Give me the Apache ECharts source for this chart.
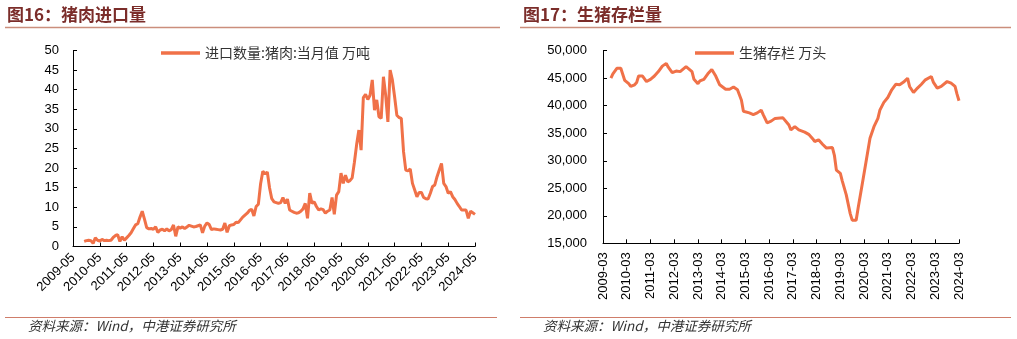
<!DOCTYPE html>
<html>
<head>
<meta charset="utf-8">
<script src="https://cdn.jsdelivr.net/npm/echarts@6/dist/echarts.min.js"></script>
<style>
html,body{margin:0;padding:0;background:#fff;}
#c{width:1017px;height:339px;}
</style>
</head>
<body>
<div id="c"></div>
<script>
// ---------- data ----------
const importStart = [2009, 5];   // first category: 2009-05
const importEnd = [2024, 5];
// 进口数量:猪肉:当月值 (万吨), monthly from 2009-05
const importValues = [null,null,null,null,null, 1.3,1.5,1.6,1.5,0.8, 2.2,1.6,1.4,1.8,1.5,
  1.6,1.5,1.6,2.3,2.8, 3.0,1.3,2.5,1.6,2.2, 2.8,3.5,4.5,5.5,5.8, 7.5,9.0,7.0,4.8,4.5,
  4.6,4.4,5.0,3.6,4.2, 4.4,4.0,4.5,4.0,4.3, 5.5,2.6,5.0,4.7,5.0, 4.6,5.0,5.4,5.2,5.0,
  5.1,5.3,5.5,3.5,5.2, 6.0,5.6,4.3,4.5,4.4, 4.3,4.2,4.4,6.0,3.6, 5.3,5.5,5.6,6.2,6.1,
  6.8,7.5,8.0,8.5,9.2, 9.5,7.8,10.2,10.8,16.0, 19.2,18.5,19.0,15.0,12.2, 11.4,11.2,11.0,11.2,12.5,
  11.0,12.1,9.3,9.0,8.7, 8.5,8.6,9.0,9.6,11.0, 7.2,13.6,11.0,11.4,10.2, 9.3,9.6,9.4,8.5,9.0,
  9.3,12.5,8.2,13.1,14.0, 18.7,16.1,18.2,16.5,16.8, 17.5,21.5,26.0,29.7,24.6, 38.0,38.8,37.5,38.6,42.5,
  34.8,37.4,33.1,32.7,43.3, 38.6,31.8,45.0,42.5,38.2, 33.5,32.9,32.7,24.2,19.5, 19.3,19.8,16.1,14.4,12.7,
  13.8,13.8,12.5,12.2,12.1, 13.6,15.3,15.7,17.8,19.5, 21.2,16.1,15.3,13.6,14.0, 12.7,12.0,11.0,10.2,9.3,
  9.3,9.3,7.2,9.0,8.6, 8.2];

const stockStart = [2009, 3];
const stockEnd = [2024, 3];
// 生猪存栏 (万头)
const stockDates = ['2009-07','2009-08','2009-10','2009-12','2010-01','2010-02','2010-04','2010-05','2010-06','2010-07','2010-08','2010-09',
  '2010-11','2010-12','2011-01','2011-03','2011-05','2011-07','2011-09','2011-11','2011-12','2012-02','2012-04','2012-06','2012-07',
  '2012-09','2012-10','2012-12','2013-01','2013-03','2013-04','2013-06','2013-08','2013-10','2013-11','2013-12','2014-02','2014-03',
  '2014-05','2014-07','2014-09','2014-10','2014-11','2015-01','2015-02','2015-05','2015-07','2015-09','2015-11','2015-12','2016-02',
  '2016-04','2016-06','2016-10','2016-11','2017-01','2017-02','2017-04','2017-06','2017-09','2017-11','2018-01','2018-02','2018-04',
  '2018-06','2018-08','2018-09','2018-11','2018-12','2019-01','2019-03','2019-04','2019-06','2019-08','2019-09','2019-11','2019-12',
  '2020-02','2020-04','2020-06','2020-08','2020-10','2020-11','2021-01','2021-03','2021-05','2021-07','2021-09','2021-11','2022-01',
  '2022-02','2022-04','2022-06','2022-08','2022-10','2023-01','2023-02','2023-04','2023-06','2023-09','2023-11','2024-01','2024-02','2024-03'];
const stockValues = [45000,45800,46800,46800,46600,44600,44000,43500,43300,43800,44200,45400,
  45400,45200,44400,44800,45400,46200,47200,47700,47000,46000,46300,46200,46300,
  47100,47200,46200,44800,44000,44500,44800,45800,46600,46700,45400,43800,43600,
  43000,43000,43400,43600,42900,41000,39000,38700,38400,38700,39200,38400,36900,
  37200,37700,37800,37600,36500,35600,36200,35600,35200,34800,34000,33500,33800,
  33000,32300,32100,32400,31000,28300,27700,26300,23800,20400,19200,19200,21400,
  25600,29800,34100,36200,37700,39200,40600,41500,42900,43900,43800,44300,45000,
  43500,42400,43200,43900,44700,45300,44300,43200,43500,44400,44100,43500,42100,40900];

const importTicks = [0,5,10,15,20,25,30,35,40,45,50];
const stockTicks = [15000,20000,25000,30000,35000,40000,45000,50000];

function months(start, end){
  const out=[]; let y=start[0], m=start[1];
  while(y<end[0] || (y===end[0] && m<=end[1])){
    out.push(y+'-'+(m<10?'0'+m:m)); m++; if(m>12){m=1;y++;}
  }
  return out;
}
const importMonths = months(importStart, importEnd);
const stockMonths = months(stockStart, stockEnd);

// ---------- chart ----------
const LINE = '#F07148';
const NUM_FONT = 'Liberation Sans, Arial, sans-serif';
const CJK_FONT = '"Noto Sans CJK SC", sans-serif';
const everyYear = (i) => i % 12 === 0;

const chart = echarts.init(document.getElementById('c'), null, {renderer:'canvas'});

function xAxisCfg(grid, data, rotate, margin){
  return {
    type:'category', gridIndex:grid, data:data, boundaryGap:false,
    axisLine:{show:true, lineStyle:{color:'#000', width:1}},
    axisTick:{show:true, inside:true, length:4, interval:everyYear, lineStyle:{color:'#000'}},
    axisLabel:{interval:everyYear, rotate:rotate, margin:margin, color:'#000', fontSize:13, fontFamily:NUM_FONT},
    splitLine:{show:false}
  };
}
function yAxisCfg(grid, ticks, margin, fmt){
  return {
    type:'value', gridIndex:grid, min:ticks[0], max:ticks[ticks.length-1], interval:ticks[1]-ticks[0],
    axisLine:{show:true, lineStyle:{color:'#000', width:1}},
    axisTick:{show:true, inside:true, length:4, lineStyle:{color:'#000'}},
    axisLabel:{margin:margin, color:'#000', fontSize:13, fontFamily:NUM_FONT, formatter:fmt},
    splitLine:{show:false}
  };
}

const option = {
  backgroundColor:'#fff',
  animation:false,
  grid:[
    {left:73, top:50.5, width:402, height:196},
    {left:603, top:50.7, width:356, height:192.6}
  ],
  xAxis:[
    xAxisCfg(0, importMonths, 45, 9),
    xAxisCfg(1, stockMonths, 90, 9)
  ],
  yAxis:[
    yAxisCfg(0, importTicks, 14, (v)=>String(v)),
    yAxisCfg(1, stockTicks, 16, (v)=>v.toLocaleString('en-US'))
  ],
  legend:[
    {left:161, top:46, padding:0, icon:'rect', itemWidth:39, itemHeight:3.5, itemGap:5,
     textStyle:{fontSize:14, color:'#333', fontFamily:CJK_FONT}, data:['进口数量:猪肉:当月值 万吨']},
    {left:695, top:46, padding:0, icon:'rect', itemWidth:39, itemHeight:3.5, itemGap:5,
     textStyle:{fontSize:14, color:'#333', fontFamily:CJK_FONT}, data:['生猪存栏 万头']}
  ],
  series:[
    {name:'进口数量:猪肉:当月值 万吨', type:'line', xAxisIndex:0, yAxisIndex:0,
     data:importValues, showSymbol:false, symbol:'none', connectNulls:false,
     lineStyle:{color:LINE, width:3}, itemStyle:{color:LINE}},
    {name:'生猪存栏 万头', type:'line', xAxisIndex:1, yAxisIndex:1,
     data:stockDates.map((d,i)=>[d, stockValues[i]]), showSymbol:false, symbol:'none',
     lineStyle:{color:LINE, width:3}, itemStyle:{color:LINE}}
  ],
  graphic:[
    {type:'text', left:7, top:6, style:{text:'图16：猪肉进口量', fontSize:17, fontWeight:'bold', fill:'#7B2D2A', fontFamily:CJK_FONT}},
    {type:'text', left:523, top:6, style:{text:'图17：生猪存栏量', fontSize:17, fontWeight:'bold', fill:'#7B2D2A', fontFamily:CJK_FONT}},
    {type:'line', shape:{x1:5, y1:27.5, x2:500, y2:27.5}, style:{stroke:'#CB8E7C', lineWidth:1.6}},
    {type:'line', shape:{x1:520, y1:27.5, x2:1011, y2:27.5}, style:{stroke:'#CB8E7C', lineWidth:1.6}},
    {type:'line', shape:{x1:5, y1:317.5, x2:497, y2:317.5}, style:{stroke:'#CF7D6A', lineWidth:1.2}},
    {type:'line', shape:{x1:520, y1:317.5, x2:1011, y2:317.5}, style:{stroke:'#CF7D6A', lineWidth:1.2}},
    {type:'text', left:28, top:319, style:{text:'资料来源：Wind，中港证券研究所', fontSize:13.5, fontStyle:'italic', fill:'#333', fontFamily:CJK_FONT}},
    {type:'text', left:543, top:319, style:{text:'资料来源：Wind，中港证券研究所', fontSize:13.5, fontStyle:'italic', fill:'#333', fontFamily:CJK_FONT}}
  ]
};
chart.setOption(option);
</script>
</body>
</html>
